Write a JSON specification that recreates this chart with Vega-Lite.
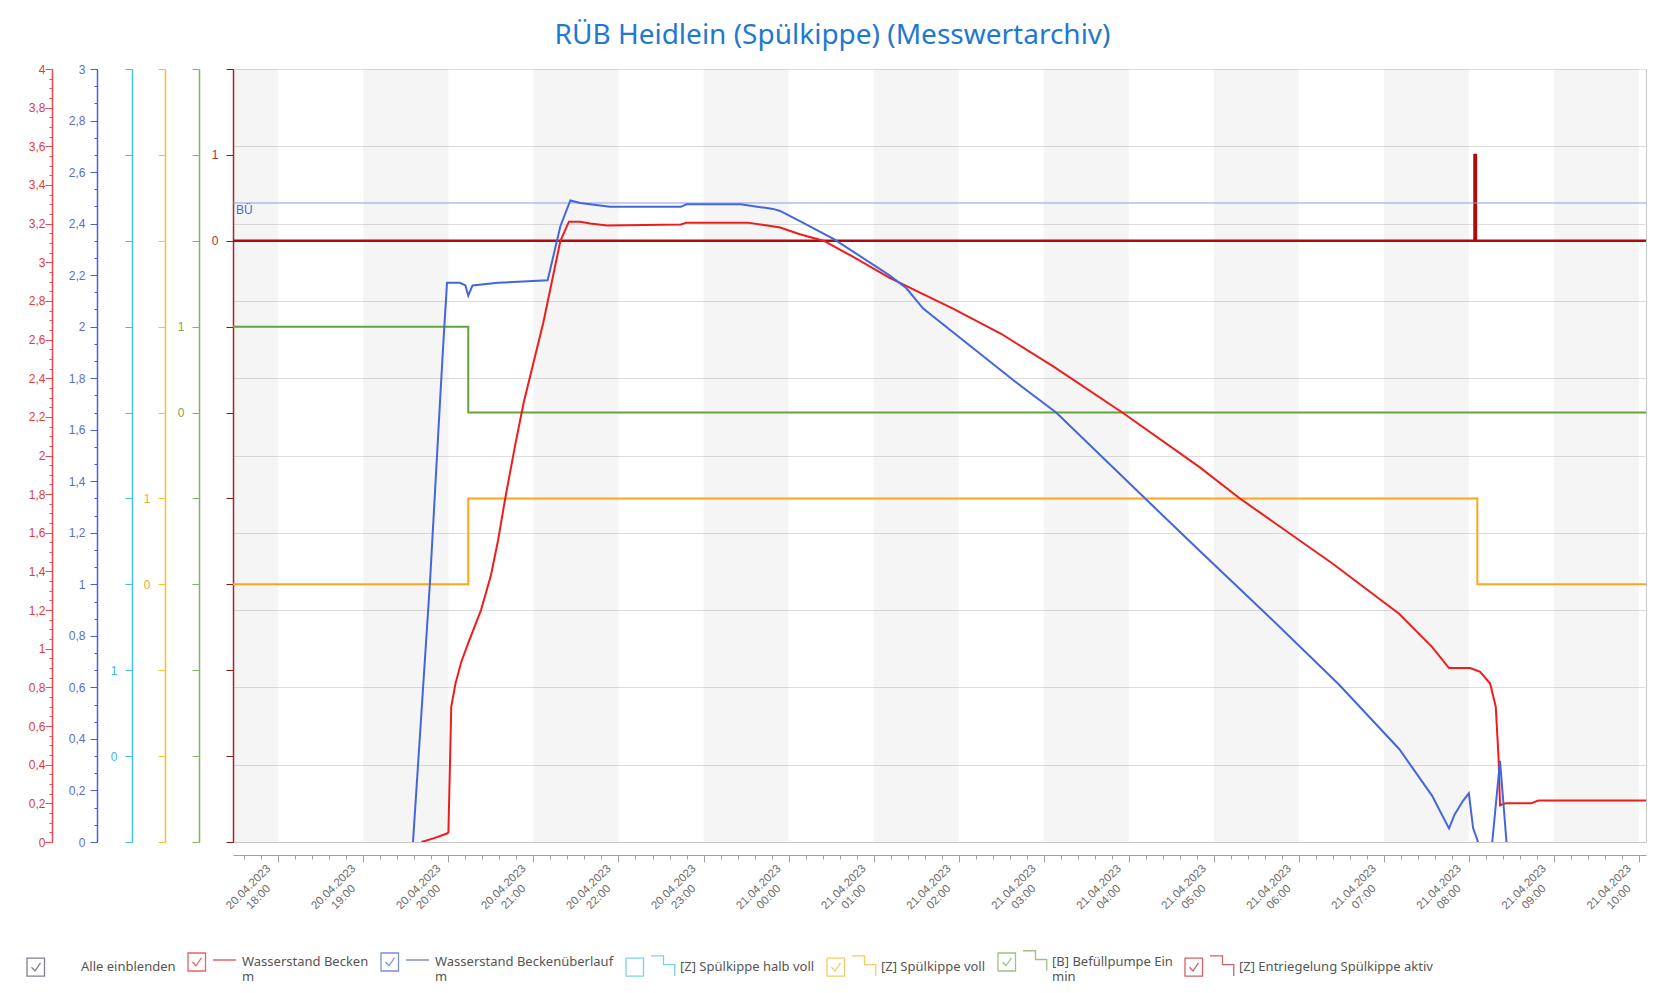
{
  "$schema": "https://vega.github.io/schema/vega-lite/v6.json",
  "autosize": {"type": "none"},
  "width": 1413,
  "height": 773,
  "padding": {"left": 233, "top": 69, "right": 13, "bottom": 151},
  "background": "white",
  "title": {"text": "RÜB Heidlein (Spülkippe) (Messwertarchiv)", "anchor": "middle", "dx": -107, "offset": -9, "baseline": "alphabetic", "font": "Noto Sans", "fontSize": 28, "fontWeight": "normal", "color": "#1f78d1"},
  "config": {
    "view": {"stroke": "#c8c8c8"},
    "axis": {"labelFont": "Liberation Sans", "labelFontSize": 12}
  },
  "datasets": {
    "bands": [
      {"time": "2023-04-20T17:00", "time_end": "2023-04-20T18:00"},
      {"time": "2023-04-20T19:00", "time_end": "2023-04-20T20:00"},
      {"time": "2023-04-20T21:00", "time_end": "2023-04-20T22:00"},
      {"time": "2023-04-20T23:00", "time_end": "2023-04-21T00:00"},
      {"time": "2023-04-21T01:00", "time_end": "2023-04-21T02:00"},
      {"time": "2023-04-21T03:00", "time_end": "2023-04-21T04:00"},
      {"time": "2023-04-21T05:00", "time_end": "2023-04-21T06:00"},
      {"time": "2023-04-21T07:00", "time_end": "2023-04-21T08:00"},
      {"time": "2023-04-21T09:00", "time_end": "2023-04-21T10:00"}
    ],
    "becken": [
      {"time": "2023-04-20T19:41", "value": 0},
      {"time": "2023-04-20T19:50", "value": 0.02},
      {"time": "2023-04-20T19:59", "value": 0.044},
      {"time": "2023-04-20T20:00", "value": 0.05},
      {"time": "2023-04-20T20:02", "value": 0.7},
      {"time": "2023-04-20T20:05", "value": 0.82},
      {"time": "2023-04-20T20:09", "value": 0.93},
      {"time": "2023-04-20T20:14", "value": 1.03},
      {"time": "2023-04-20T20:23", "value": 1.2},
      {"time": "2023-04-20T20:30", "value": 1.38},
      {"time": "2023-04-20T20:35", "value": 1.56},
      {"time": "2023-04-20T20:40", "value": 1.775},
      {"time": "2023-04-20T20:47", "value": 2.05},
      {"time": "2023-04-20T20:53", "value": 2.27},
      {"time": "2023-04-20T21:07", "value": 2.69},
      {"time": "2023-04-20T21:19", "value": 3.11},
      {"time": "2023-04-20T21:25", "value": 3.21},
      {"time": "2023-04-20T21:33", "value": 3.21},
      {"time": "2023-04-20T21:40", "value": 3.2},
      {"time": "2023-04-20T21:52", "value": 3.19},
      {"time": "2023-04-20T22:44", "value": 3.195},
      {"time": "2023-04-20T22:48", "value": 3.205},
      {"time": "2023-04-20T23:31", "value": 3.205},
      {"time": "2023-04-20T23:45", "value": 3.19},
      {"time": "2023-04-20T23:54", "value": 3.18},
      {"time": "2023-04-21T00:08", "value": 3.145},
      {"time": "2023-04-21T00:25", "value": 3.11},
      {"time": "2023-04-21T00:45", "value": 3.03},
      {"time": "2023-04-21T01:11", "value": 2.92},
      {"time": "2023-04-21T01:56", "value": 2.76},
      {"time": "2023-04-21T02:30", "value": 2.63},
      {"time": "2023-04-21T03:07", "value": 2.46},
      {"time": "2023-04-21T03:56", "value": 2.22},
      {"time": "2023-04-21T04:50", "value": 1.94},
      {"time": "2023-04-21T05:18", "value": 1.78},
      {"time": "2023-04-21T06:24", "value": 1.44},
      {"time": "2023-04-21T07:11", "value": 1.18},
      {"time": "2023-04-21T07:34", "value": 1.01},
      {"time": "2023-04-21T07:46", "value": 0.9},
      {"time": "2023-04-21T08:01", "value": 0.9},
      {"time": "2023-04-21T08:08", "value": 0.88},
      {"time": "2023-04-21T08:15", "value": 0.82},
      {"time": "2023-04-21T08:19", "value": 0.7},
      {"time": "2023-04-21T08:21", "value": 0.43},
      {"time": "2023-04-21T08:22", "value": 0.19},
      {"time": "2023-04-21T08:26", "value": 0.2},
      {"time": "2023-04-21T08:44", "value": 0.2},
      {"time": "2023-04-21T08:49", "value": 0.215},
      {"time": "2023-04-21T10:05", "value": 0.215}
    ],
    "ueberlauf": [
      {"time": "2023-04-20T19:35", "value": 0},
      {"time": "2023-04-20T19:47", "value": 1.01},
      {"time": "2023-04-20T19:56", "value": 1.9},
      {"time": "2023-04-20T19:59", "value": 2.17},
      {"time": "2023-04-20T20:08", "value": 2.17},
      {"time": "2023-04-20T20:12", "value": 2.16},
      {"time": "2023-04-20T20:14", "value": 2.12},
      {"time": "2023-04-20T20:17", "value": 2.16},
      {"time": "2023-04-20T20:35", "value": 2.17},
      {"time": "2023-04-20T21:10", "value": 2.18},
      {"time": "2023-04-20T21:19", "value": 2.39},
      {"time": "2023-04-20T21:26", "value": 2.49},
      {"time": "2023-04-20T21:33", "value": 2.48},
      {"time": "2023-04-20T21:54", "value": 2.465},
      {"time": "2023-04-20T22:44", "value": 2.465},
      {"time": "2023-04-20T22:48", "value": 2.475},
      {"time": "2023-04-20T23:26", "value": 2.475},
      {"time": "2023-04-20T23:49", "value": 2.457},
      {"time": "2023-04-20T23:54", "value": 2.449},
      {"time": "2023-04-21T00:08", "value": 2.41},
      {"time": "2023-04-21T00:32", "value": 2.34},
      {"time": "2023-04-21T01:11", "value": 2.2},
      {"time": "2023-04-21T01:23", "value": 2.15},
      {"time": "2023-04-21T01:35", "value": 2.07},
      {"time": "2023-04-21T02:38", "value": 1.795},
      {"time": "2023-04-21T03:09", "value": 1.666},
      {"time": "2023-04-21T04:12", "value": 1.331},
      {"time": "2023-04-21T04:50", "value": 1.13},
      {"time": "2023-04-21T05:37", "value": 0.885},
      {"time": "2023-04-21T06:28", "value": 0.613},
      {"time": "2023-04-21T07:11", "value": 0.36},
      {"time": "2023-04-21T07:34", "value": 0.18},
      {"time": "2023-04-21T07:46", "value": 0.053},
      {"time": "2023-04-21T07:50", "value": 0.107},
      {"time": "2023-04-21T07:56", "value": 0.161},
      {"time": "2023-04-21T08:00", "value": 0.189},
      {"time": "2023-04-21T08:03", "value": 0.054},
      {"time": "2023-04-21T08:06", "value": 0.008},
      {"time": "2023-04-21T08:08", "value": -0.03},
      {"time": "2023-04-21T08:16", "value": -0.03},
      {"time": "2023-04-21T08:22", "value": 0.315},
      {"time": "2023-04-21T08:27", "value": -0.03},
      {"time": "2023-04-21T10:05", "value": -0.03}
    ],
    "voll": [
      {"time": "2023-04-20T17:28", "value": 0},
      {"time": "2023-04-20T20:14", "value": 1},
      {"time": "2023-04-21T08:06", "value": 0},
      {"time": "2023-04-21T10:05", "value": 0}
    ],
    "pumpe": [
      {"time": "2023-04-20T17:28", "value": 1},
      {"time": "2023-04-20T20:14", "value": 0},
      {"time": "2023-04-21T10:05", "value": 0}
    ],
    "entriegelung": [
      {"time": "2023-04-20T17:28", "value": 0},
      {"time": "2023-04-21T08:04", "value": 1},
      {"time": "2023-04-21T08:05", "value": 0},
      {"time": "2023-04-21T10:05", "value": 0}
    ],
    "limits": [
      {"time": "2023-04-20T17:28", "level": 2.48, "name": "BÜ"}
    ]
  },
  "layer": [
    {
      "data": {"name": "bands"},
      "mark": {"type": "rect", "color": "#000000", "opacity": 0.04, "clip": true},
      "encoding": {
        "x": {
          "field": "time", "type": "temporal", "title": null,
          "scale": {"domain": [{"year": 2023, "month": 4, "date": 20, "hours": 17, "minutes": 28}, {"year": 2023, "month": 4, "date": 21, "hours": 10, "minutes": 5}], "nice": false},
          "axis": {
            "orient": "bottom", "offset": 13, "title": null, "grid": false,
            "values": [
              {"year": 2023, "month": 4, "date": 20, "hours": 18}, {"year": 2023, "month": 4, "date": 20, "hours": 19},
              {"year": 2023, "month": 4, "date": 20, "hours": 20}, {"year": 2023, "month": 4, "date": 20, "hours": 21},
              {"year": 2023, "month": 4, "date": 20, "hours": 22}, {"year": 2023, "month": 4, "date": 20, "hours": 23},
              {"year": 2023, "month": 4, "date": 21, "hours": 0}, {"year": 2023, "month": 4, "date": 21, "hours": 1},
              {"year": 2023, "month": 4, "date": 21, "hours": 2}, {"year": 2023, "month": 4, "date": 21, "hours": 3},
              {"year": 2023, "month": 4, "date": 21, "hours": 4}, {"year": 2023, "month": 4, "date": 21, "hours": 5},
              {"year": 2023, "month": 4, "date": 21, "hours": 6}, {"year": 2023, "month": 4, "date": 21, "hours": 7},
              {"year": 2023, "month": 4, "date": 21, "hours": 8}, {"year": 2023, "month": 4, "date": 21, "hours": 9},
              {"year": 2023, "month": 4, "date": 21, "hours": 10}
            ],
            "tickSize": 7,
            "tickColor": "#a0a0a0", "domainColor": "#a0a0a0",
            "labelExpr": "[timeFormat(datum.value, '%d.%m.%Y'), timeFormat(datum.value, '%H:%M')]",
            "labelAngle": -45, "labelAlign": "center", "labelBaseline": "middle",
            "labelOffset": -30, "labelPadding": 25, "labelOverlap": false, "labelFlush": false, "labelBound": false,
            "labelColor": "#6a6a6a", "labelFontSize": 11.5, "labelLineHeight": 14
          }
        },
        "x2": {"field": "time_end"}
      }
    },
    {
      "data": {"values": []},
      "mark": {"type": "rule"},
      "encoding": {
        "x": {"field": "t", "type": "temporal", "title": null,
          "scale": {"domain": [{"year": 2023, "month": 4, "date": 20, "hours": 17, "minutes": 28}, {"year": 2023, "month": 4, "date": 21, "hours": 10, "minutes": 5}], "nice": false},
          "axis": {"orient": "bottom", "offset": 13, "title": null, "grid": false, "domain": false, "labels": false, "tickSize": 4, "tickColor": "#a0a0a0",
            "values": [
              {"year": 2023, "month": 4, "date": 20, "hours": 17, "minutes": 36}, {"year": 2023, "month": 4, "date": 20, "hours": 17, "minutes": 48},
              {"year": 2023, "month": 4, "date": 20, "hours": 18, "minutes": 12}, {"year": 2023, "month": 4, "date": 20, "hours": 18, "minutes": 24}, {"year": 2023, "month": 4, "date": 20, "hours": 18, "minutes": 36}, {"year": 2023, "month": 4, "date": 20, "hours": 18, "minutes": 48},
              {"year": 2023, "month": 4, "date": 20, "hours": 19, "minutes": 12}, {"year": 2023, "month": 4, "date": 20, "hours": 19, "minutes": 24}, {"year": 2023, "month": 4, "date": 20, "hours": 19, "minutes": 36}, {"year": 2023, "month": 4, "date": 20, "hours": 19, "minutes": 48},
              {"year": 2023, "month": 4, "date": 20, "hours": 20, "minutes": 12}, {"year": 2023, "month": 4, "date": 20, "hours": 20, "minutes": 24}, {"year": 2023, "month": 4, "date": 20, "hours": 20, "minutes": 36}, {"year": 2023, "month": 4, "date": 20, "hours": 20, "minutes": 48},
              {"year": 2023, "month": 4, "date": 20, "hours": 21, "minutes": 12}, {"year": 2023, "month": 4, "date": 20, "hours": 21, "minutes": 24}, {"year": 2023, "month": 4, "date": 20, "hours": 21, "minutes": 36}, {"year": 2023, "month": 4, "date": 20, "hours": 21, "minutes": 48},
              {"year": 2023, "month": 4, "date": 20, "hours": 22, "minutes": 12}, {"year": 2023, "month": 4, "date": 20, "hours": 22, "minutes": 24}, {"year": 2023, "month": 4, "date": 20, "hours": 22, "minutes": 36}, {"year": 2023, "month": 4, "date": 20, "hours": 22, "minutes": 48},
              {"year": 2023, "month": 4, "date": 20, "hours": 23, "minutes": 12}, {"year": 2023, "month": 4, "date": 20, "hours": 23, "minutes": 24}, {"year": 2023, "month": 4, "date": 20, "hours": 23, "minutes": 36}, {"year": 2023, "month": 4, "date": 20, "hours": 23, "minutes": 48},
              {"year": 2023, "month": 4, "date": 21, "hours": 0, "minutes": 12}, {"year": 2023, "month": 4, "date": 21, "hours": 0, "minutes": 24}, {"year": 2023, "month": 4, "date": 21, "hours": 0, "minutes": 36}, {"year": 2023, "month": 4, "date": 21, "hours": 0, "minutes": 48},
              {"year": 2023, "month": 4, "date": 21, "hours": 1, "minutes": 12}, {"year": 2023, "month": 4, "date": 21, "hours": 1, "minutes": 24}, {"year": 2023, "month": 4, "date": 21, "hours": 1, "minutes": 36}, {"year": 2023, "month": 4, "date": 21, "hours": 1, "minutes": 48},
              {"year": 2023, "month": 4, "date": 21, "hours": 2, "minutes": 12}, {"year": 2023, "month": 4, "date": 21, "hours": 2, "minutes": 24}, {"year": 2023, "month": 4, "date": 21, "hours": 2, "minutes": 36}, {"year": 2023, "month": 4, "date": 21, "hours": 2, "minutes": 48},
              {"year": 2023, "month": 4, "date": 21, "hours": 3, "minutes": 12}, {"year": 2023, "month": 4, "date": 21, "hours": 3, "minutes": 24}, {"year": 2023, "month": 4, "date": 21, "hours": 3, "minutes": 36}, {"year": 2023, "month": 4, "date": 21, "hours": 3, "minutes": 48},
              {"year": 2023, "month": 4, "date": 21, "hours": 4, "minutes": 12}, {"year": 2023, "month": 4, "date": 21, "hours": 4, "minutes": 24}, {"year": 2023, "month": 4, "date": 21, "hours": 4, "minutes": 36}, {"year": 2023, "month": 4, "date": 21, "hours": 4, "minutes": 48},
              {"year": 2023, "month": 4, "date": 21, "hours": 5, "minutes": 12}, {"year": 2023, "month": 4, "date": 21, "hours": 5, "minutes": 24}, {"year": 2023, "month": 4, "date": 21, "hours": 5, "minutes": 36}, {"year": 2023, "month": 4, "date": 21, "hours": 5, "minutes": 48},
              {"year": 2023, "month": 4, "date": 21, "hours": 6, "minutes": 12}, {"year": 2023, "month": 4, "date": 21, "hours": 6, "minutes": 24}, {"year": 2023, "month": 4, "date": 21, "hours": 6, "minutes": 36}, {"year": 2023, "month": 4, "date": 21, "hours": 6, "minutes": 48},
              {"year": 2023, "month": 4, "date": 21, "hours": 7, "minutes": 12}, {"year": 2023, "month": 4, "date": 21, "hours": 7, "minutes": 24}, {"year": 2023, "month": 4, "date": 21, "hours": 7, "minutes": 36}, {"year": 2023, "month": 4, "date": 21, "hours": 7, "minutes": 48},
              {"year": 2023, "month": 4, "date": 21, "hours": 8, "minutes": 12}, {"year": 2023, "month": 4, "date": 21, "hours": 8, "minutes": 24}, {"year": 2023, "month": 4, "date": 21, "hours": 8, "minutes": 36}, {"year": 2023, "month": 4, "date": 21, "hours": 8, "minutes": 48},
              {"year": 2023, "month": 4, "date": 21, "hours": 9, "minutes": 12}, {"year": 2023, "month": 4, "date": 21, "hours": 9, "minutes": 24}, {"year": 2023, "month": 4, "date": 21, "hours": 9, "minutes": 36}, {"year": 2023, "month": 4, "date": 21, "hours": 9, "minutes": 48}
            ]}}
      }
    },
    {
      "data": {"values": []},
      "mark": {"type": "rule"},
      "encoding": {
        "y": {"field": "v", "type": "quantitative", "scale": {"domain": [0, 4], "nice": false, "zero": false},
          "axis": {"orient": "left", "offset": 0, "title": null, "values": [0.4, 0.8, 1.2, 1.6, 2, 2.4, 2.8, 3.2, 3.6, 4], "grid": true, "gridColor": "#dedede", "gridWidth": 1, "domain": false, "ticks": false, "labels": false}}
      }
    },
    {
      "data": {"values": []},
      "mark": {"type": "rule"},
      "encoding": {
        "y": {"field": "v", "type": "quantitative", "scale": {"domain": [0, 4], "nice": false, "zero": false},
          "axis": {"orient": "left", "offset": 181, "title": null, "grid": false, "domain": false, "labels": false, "tickSize": 3, "tickColor": "#e5484d",
            "values": [0,0.05,0.1,0.15,0.2,0.25,0.3,0.35,0.4,0.45,0.5,0.55,0.6,0.65,0.7,0.75,0.8,0.85,0.9,0.95,1,1.05,1.1,1.15,1.2,1.25,1.3,1.35,1.4,1.45,1.5,1.55,1.6,1.65,1.7,1.75,1.8,1.85,1.9,1.95,2,2.05,2.1,2.15,2.2,2.25,2.3,2.35,2.4,2.45,2.5,2.55,2.6,2.65,2.7,2.75,2.8,2.85,2.9,2.95,3,3.05,3.1,3.15,3.2,3.25,3.3,3.35,3.4,3.45,3.5,3.55,3.6,3.65,3.7,3.75,3.8,3.85,3.9,3.95,4]}}
      }
    },
    {
      "data": {"values": []},
      "mark": {"type": "rule"},
      "encoding": {
        "y": {"field": "v", "type": "quantitative", "scale": {"domain": [0, 3], "nice": false, "zero": false},
          "axis": {"orient": "left", "offset": 136, "title": null, "grid": false, "domain": false, "labels": false, "tickSize": 3, "tickColor": "#4d63c6",
            "values": [0,0.0667,0.1333,0.2,0.2667,0.3333,0.4,0.4667,0.5333,0.6,0.6667,0.7333,0.8,0.8667,0.9333,1,1.0667,1.1333,1.2,1.2667,1.3333,1.4,1.4667,1.5333,1.6,1.6667,1.7333,1.8,1.8667,1.9333,2,2.0667,2.1333,2.2,2.2667,2.3333,2.4,2.4667,2.5333,2.6,2.6667,2.7333,2.8,2.8667,2.9333,3]}}
      }
    },
    {
      "data": {"values": []},
      "mark": {"type": "rule"},
      "encoding": {
        "y": {"field": "v", "type": "quantitative", "scale": {"domain": [-1, 8], "nice": false, "zero": false},
          "axis": {"orient": "left", "offset": 101, "title": null, "grid": false, "values": [-1, 0, 1, 2, 3, 4, 5, 6, 7, 8],
            "domainColor": "#45c0e0", "domainWidth": 1.5, "tickColor": "#45c0e0", "tickSize": 7,
            "labelExpr": "datum.value === 0 ? '0' : datum.value === 1 ? '1' : ''", "labelColor": "#40b6dc", "labelPadding": 8, "labelOverlap": false, "labelBound": false, "labelFlush": false}}
      }
    },
    {
      "data": {"name": "voll"},
      "mark": {"type": "line", "interpolate": "step-after", "color": "#ffa41b", "strokeWidth": 2, "clip": true},
      "encoding": {
        "x": {"field": "time", "type": "temporal", "title": null, "axis": null, "scale": {"domain": [{"year": 2023, "month": 4, "date": 20, "hours": 17, "minutes": 28}, {"year": 2023, "month": 4, "date": 21, "hours": 10, "minutes": 5}], "nice": false}},
        "y": {"field": "value", "type": "quantitative", "scale": {"domain": [-3, 6], "nice": false, "zero": false},
          "axis": {"orient": "left", "offset": 68, "title": null, "grid": false, "values": [-3, -2, -1, 0, 1, 2, 3, 4, 5, 6],
            "domainColor": "#f2c232", "domainWidth": 1.5, "tickColor": "#f2c232", "tickSize": 7,
            "labelExpr": "datum.value === 0 ? '0' : datum.value === 1 ? '1' : ''", "labelColor": "#f0a830", "labelPadding": 8, "labelOverlap": false, "labelBound": false, "labelFlush": false}}
      }
    },
    {
      "data": {"name": "pumpe"},
      "mark": {"type": "line", "interpolate": "step-after", "color": "#65a33c", "strokeWidth": 2, "clip": true},
      "encoding": {
        "x": {"field": "time", "type": "temporal", "title": null, "axis": null, "scale": {"domain": [{"year": 2023, "month": 4, "date": 20, "hours": 17, "minutes": 28}, {"year": 2023, "month": 4, "date": 21, "hours": 10, "minutes": 5}], "nice": false}},
        "y": {"field": "value", "type": "quantitative", "scale": {"domain": [-5, 4], "nice": false, "zero": false},
          "axis": {"orient": "left", "offset": 34, "title": null, "grid": false, "values": [-5, -4, -3, -2, -1, 0, 1, 2, 3, 4],
            "domainColor": "#86b262", "domainWidth": 1.5, "tickColor": "#86b262", "tickSize": 7,
            "labelExpr": "datum.value === 0 ? '0' : datum.value === 1 ? '1' : ''", "labelColor": "#7aa84e", "labelPadding": 8, "labelOverlap": false, "labelBound": false, "labelFlush": false}}
      }
    },
    {
      "data": {"name": "entriegelung"},
      "mark": {"type": "line", "interpolate": "step-after", "color": "#b00a0a", "strokeWidth": 2.5, "clip": true},
      "encoding": {
        "x": {"field": "time", "type": "temporal", "title": null, "axis": null, "scale": {"domain": [{"year": 2023, "month": 4, "date": 20, "hours": 17, "minutes": 28}, {"year": 2023, "month": 4, "date": 21, "hours": 10, "minutes": 5}], "nice": false}},
        "y": {"field": "value", "type": "quantitative", "scale": {"domain": [-7, 2], "nice": false, "zero": false},
          "axis": {"orient": "left", "offset": 0, "title": null, "grid": false, "values": [-7, -6, -5, -4, -3, -2, -1, 0, 1, 2],
            "domainColor": "#b3262c", "domainWidth": 1.5, "tickColor": "#8a1a1a", "tickSize": 7,
            "labelExpr": "datum.value === 0 ? '0' : datum.value === 1 ? '1' : ''", "labelColor": "#a83232", "labelPadding": 8, "labelOverlap": false, "labelBound": false, "labelFlush": false}}
      }
    },
    {
      "data": {"name": "limits"},
      "mark": {"type": "rule", "color": "#8a9ee6", "strokeWidth": 1},
      "encoding": {
        "y": {"field": "level", "type": "quantitative", "scale": {"domain": [0, 3], "nice": false, "zero": false}, "axis": null}
      }
    },
    {
      "data": {"name": "limits"},
      "mark": {"type": "text", "align": "left", "baseline": "top", "dx": 3, "dy": 2, "color": "#4a66cc", "font": "Liberation Sans", "fontSize": 12},
      "encoding": {
        "x": {"field": "time", "type": "temporal", "title": null, "axis": null, "scale": {"domain": [{"year": 2023, "month": 4, "date": 20, "hours": 17, "minutes": 28}, {"year": 2023, "month": 4, "date": 21, "hours": 10, "minutes": 5}], "nice": false}},
        "y": {"field": "level", "type": "quantitative", "scale": {"domain": [0, 3], "nice": false, "zero": false}, "axis": null},
        "text": {"field": "name"}
      }
    },
    {
      "data": {"name": "becken"},
      "mark": {"type": "line", "color": "#f01c1c", "strokeWidth": 2, "clip": true},
      "encoding": {
        "x": {"field": "time", "type": "temporal", "title": null, "axis": null, "scale": {"domain": [{"year": 2023, "month": 4, "date": 20, "hours": 17, "minutes": 28}, {"year": 2023, "month": 4, "date": 21, "hours": 10, "minutes": 5}], "nice": false}},
        "y": {"field": "value", "type": "quantitative", "scale": {"domain": [0, 4], "nice": false, "zero": false},
          "axis": {"orient": "left", "offset": 181, "title": null, "grid": false,
            "values": [0,0.2,0.4,0.6,0.8,1,1.2,1.4,1.6,1.8,2,2.2,2.4,2.6,2.8,3,3.2,3.4,3.6,3.8,4],
            "domainColor": "#e5484d", "domainWidth": 1.5, "tickColor": "#e5484d", "tickSize": 7,
            "labelExpr": "replace(format(datum.value, '.1~f'), '.', ',')",
            "labelColor": "#e0393e", "labelPadding": 0, "labelOverlap": false, "labelBound": false, "labelFlush": false}}
      }
    },
    {
      "data": {"name": "ueberlauf"},
      "mark": {"type": "line", "color": "#4466dd", "strokeWidth": 2, "clip": true},
      "encoding": {
        "x": {"field": "time", "type": "temporal", "title": null, "axis": null, "scale": {"domain": [{"year": 2023, "month": 4, "date": 20, "hours": 17, "minutes": 28}, {"year": 2023, "month": 4, "date": 21, "hours": 10, "minutes": 5}], "nice": false}},
        "y": {"field": "value", "type": "quantitative", "scale": {"domain": [0, 3], "nice": false, "zero": false},
          "axis": {"orient": "left", "offset": 136, "title": null, "grid": false,
            "values": [0,0.2,0.4,0.6,0.8,1,1.2,1.4,1.6,1.8,2,2.2,2.4,2.6,2.8,3],
            "domainColor": "#4d63c6", "domainWidth": 1.5, "tickColor": "#4d63c6", "tickSize": 7,
            "labelExpr": "replace(format(datum.value, '.1~f'), '.', ',')",
            "labelColor": "#5a6ec8", "labelPadding": 5, "labelOverlap": false, "labelBound": false, "labelFlush": false}}
      }
    },
    {
      "data": {"values": []},
      "mark": {"type": "point", "filled": false, "size": 2500, "strokeWidth": 1.3},
      "encoding": {
        "color": {"field": "entry", "type": "nominal",
          "scale": {"domain": ["Alle einblenden", "Wasserstand Becken", "Wasserstand Beckenüberlauf", "[Z] Spülkippe halb voll", "[Z] Spülkippe voll", "[B] Befüllpumpe Ein", "[Z] Entriegelung Spülkippe aktiv"],
            "range": ["#4a4a6e", "#e0202a", "#4a5fc8", "#40c0e0", "#f2b52a", "#78a850", "#c0202a"]},
          "legend": {"orient": "none", "legendX": -207, "legendY": 867, "direction": "horizontal", "columns": 7, "columnPadding": 9, "padding": 0, "title": null,
            "symbolSize": 2500, "symbolStrokeWidth": 1.3, "labelOffset": 3, "labelFont": "Noto Sans", "labelFontSize": 13, "labelColor": "#555555", "labelLimit": 400, "labelLineHeight": 15,
            "labelExpr": "datum.label === 'Wasserstand Becken' ? ['Wasserstand Becken', 'm'] : datum.label === 'Wasserstand Beckenüberlauf' ? ['Wasserstand Beckenüberlauf', 'm'] : datum.label === '[B] Befüllpumpe Ein' ? ['[B] Befüllpumpe Ein', 'min'] : datum.label"}},
        "shape": {"field": "entry", "type": "nominal",
          "scale": {"domain": ["Alle einblenden", "Wasserstand Becken", "Wasserstand Beckenüberlauf", "[Z] Spülkippe halb voll", "[Z] Spülkippe voll", "[B] Befüllpumpe Ein", "[Z] Entriegelung Spülkippe aktiv"],
            "range": [
              "M-1,-0.36H-0.3V0.36H-1Z M-0.82,0L-0.68,0.15L-0.46,-0.17",
              "M-1,-0.36H-0.3V0.36H-1Z M-0.82,0L-0.68,0.15L-0.46,-0.17 M0,-0.08H0.92",
              "M-1,-0.36H-0.3V0.36H-1Z M-0.82,0L-0.68,0.15L-0.46,-0.17 M0,-0.08H0.92",
              "M-1,-0.36H-0.3V0.36H-1Z M0,-0.45H0.5V-0.1H0.95V0.35",
              "M-1,-0.36H-0.3V0.36H-1Z M-0.82,0L-0.68,0.15L-0.46,-0.17 M0,-0.45H0.5V-0.1H0.95V0.35",
              "M-1,-0.36H-0.3V0.36H-1Z M-0.82,0L-0.68,0.15L-0.46,-0.17 M0,-0.45H0.5V-0.1H0.95V0.35",
              "M-1,-0.36H-0.3V0.36H-1Z M-0.82,0L-0.68,0.15L-0.46,-0.17 M0,-0.45H0.5V-0.1H0.95V0.35"
            ]},
          "legend": {"orient": "none", "legendX": -207, "legendY": 867, "direction": "horizontal", "columns": 7, "columnPadding": 9, "padding": 0, "title": null,
            "symbolSize": 2500, "symbolStrokeWidth": 1.3, "labelOffset": 3, "labelFont": "Noto Sans", "labelFontSize": 13, "labelColor": "#555555", "labelLimit": 400, "labelLineHeight": 15,
            "labelExpr": "datum.label === 'Wasserstand Becken' ? ['Wasserstand Becken', 'm'] : datum.label === 'Wasserstand Beckenüberlauf' ? ['Wasserstand Beckenüberlauf', 'm'] : datum.label === '[B] Befüllpumpe Ein' ? ['[B] Befüllpumpe Ein', 'min'] : datum.label"}}
      }
    }
  ],
  "resolve": {"scale": {"y": "independent", "x": "independent"}, "axis": {"y": "independent", "x": "independent"}}
}
